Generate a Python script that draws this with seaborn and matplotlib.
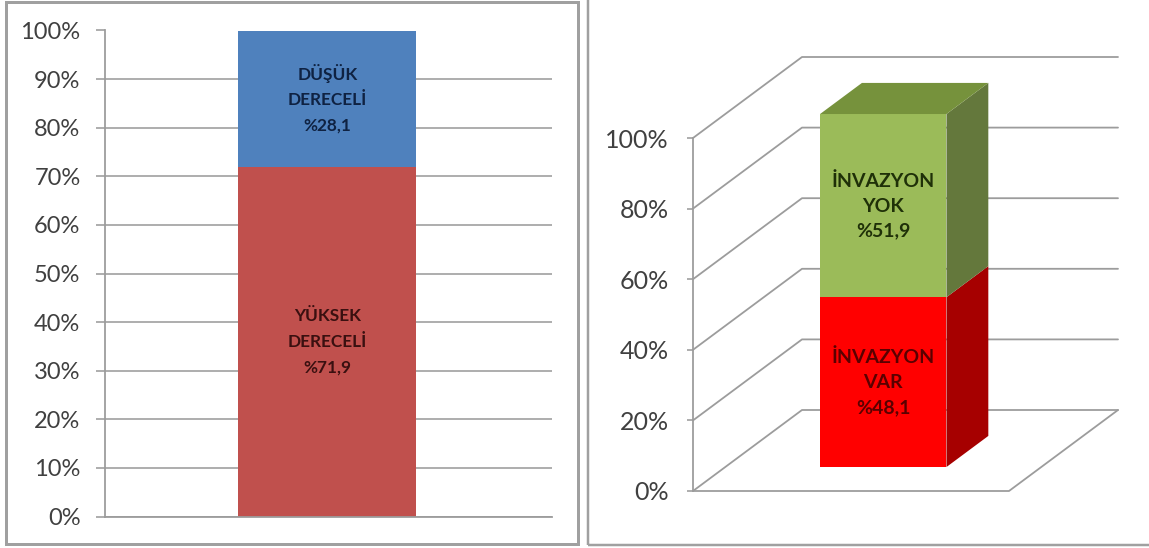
import matplotlib
matplotlib.use("Agg")
import matplotlib.pyplot as plt
from matplotlib.patches import Polygon, Rectangle
import seaborn as sns

# ---- data ----
left_names = ["YÜKSEK\nDERECELİ", "DÜŞÜK\nDERECELİ"]
left_values = [71.9, 28.1]
right_names = ["İNVAZYON\nVAR", "İNVAZYON\nYOK"]
right_values = [48.1, 51.9]
left_ticks = [0, 10, 20, 30, 40, 50, 60, 70, 80, 90, 100]
right_ticks = [0, 20, 40, 60, 80, 100]

# ---- styles ----
W, H = 1149, 548
GRID = "#9c9c9c"
FRAME = "#a0a0a0"
TICK_TEXT = "#404040"
left_colors = ["#C0504D", "#4F81BD"]
left_text = ["#3a1010", "#0f2242"]
right_front = ["#FF0000", "#9BBB59"]
right_side = ["#A60000", "#64783C"]
right_top = "#76923C"
right_text = ["#5a0000", "#1f3008"]

sns.set_theme(style="white")
plt.rcParams["font.family"] = ["Lato", "DejaVu Sans"]
PT = 72 / 100  # points per pixel at dpi 100

fig = plt.figure(figsize=(W / 100, H / 100), dpi=100)


def axes_px(x0, y0, x1, y1, **kw):
    return fig.add_axes([x0 / W, 1 - y1 / H, (x1 - x0) / W, (y1 - y0) / H], **kw)


def label(v, name):
    return f"{name}\n%{str(v).replace('.', ',')}"


def style_ticks(ax, ticks, length_px, pad_px, size):
    ax.set_yticks(ticks)
    ax.set_yticklabels([f"{t}%" for t in ticks], fontsize=size, color=TICK_TEXT)
    ax.tick_params(axis="y", left=True, length=length_px * PT, width=1.6 * PT,
                   color=GRID, pad=pad_px * PT)
    ax.set_xticks([])
    ax.set_xlabel("")
    ax.set_ylabel("")


# ---- frames ----
fig.add_artist(Rectangle((6 / W, 1 - 544 / H), 572 / W, 542 / H, fill=False,
                         ec=FRAME, lw=3 * PT, transform=fig.transFigure))
fig.add_artist(Rectangle((588 / W, 1 - 545 / H), 600 / W, 560 / H, fill=False,
                         ec=FRAME, lw=2.5 * PT, transform=fig.transFigure))

# ---- left panel: stacked 2D ----
ax = axes_px(104.5, 30.5, 552, 516.5)
ax.patch.set_alpha(0)
ax.set_axisbelow(True)
bottom = 0
for v, name, c, tc in zip(left_values, left_names, left_colors, left_text):
    sns.barplot(x=[""], y=[v], bottom=bottom, color=c, saturation=1, width=0.398,
                ax=ax, linewidth=0)
    ax.bar_label(ax.containers[-1], labels=[label(v, name)], label_type="center",
                 fontsize=12.4, fontweight="bold", color=tc, linespacing=1.72)
    bottom += v
ax.set_xlim(-0.498, 0.502)
ax.set_ylim(0, 100)
style_ticks(ax, left_ticks, 9.5, 14.5, 17)
ax.grid(axis="y", color=GRID, lw=1.6 * PT)
ax.grid(axis="x", visible=False)
for s in ["top", "right"]:
    ax.spines[s].set_visible(False)
for s in ["left", "bottom"]:
    ax.spines[s].set_color(GRID)
    ax.spines[s].set_linewidth(1.8 * PT)

# ---- right panel: oblique 3D stack ----
FX0, FX1, FY0, FY1 = 693, 1009, 138, 491     # front plane of the box, pixels
DEPTH_X = 109 / (FX1 - FX0)                  # full depth, x units
DEPTH_Y = 81 / ((FY1 - FY0) / 100)           # full depth, percent units
D0, D1 = 0.296, 0.68                         # bar depth extent (fraction of box)

wall = axes_px(FX0, FY0, FX1, FY1)
wall.patch.set_alpha(0)
wall.set_xlim(-0.5, 0.5)
wall.set_ylim(0, 100)
style_ticks(wall, right_ticks, 6, 18, 18)
for s in ["top", "right", "bottom"]:
    wall.spines[s].set_visible(False)
wall.spines["left"].set_color(GRID)
wall.spines["left"].set_linewidth(1.8 * PT)


def proj(x, y, d):
    return x + d * DEPTH_X, y + d * DEPTH_Y


line_kw = dict(color=GRID, lw=1.8 * PT, clip_on=False, solid_capstyle="round")
for t in right_ticks:
    p0, p1, p2 = proj(-0.5, t, 0), proj(-0.5, t, 1), proj(0.5, t, 1)
    wall.plot([p0[0], p1[0], p2[0]], [p0[1], p1[1], p2[1]], **line_kw)
f0, f1 = proj(-0.5, 0, 0), proj(0.5, 0, 0)
b1 = proj(0.5, 0, 1)
wall.plot([f0[0], f1[0], b1[0]], [f0[1], f1[1], b1[1]], **line_kw)

# bars live in an axes shifted to the bar's front plane
sx = D0 * DEPTH_X * (FX1 - FX0)
sy = D0 * DEPTH_Y * (FY1 - FY0) / 100
bar_ax = axes_px(FX0 + sx, FY0 - sy, FX1 + sx, FY1 - sy)
bar_ax.patch.set_alpha(0)
half = 0.2
bottom = 0
dd = D1 - D0
for v, name, c, side, tc in zip(right_values, right_names, right_front, right_side, right_text):
    sns.barplot(x=[""], y=[v], bottom=bottom, color=c, saturation=1, width=2 * half,
                ax=bar_ax, linewidth=0)
    bar_ax.bar_label(bar_ax.containers[-1], labels=[label(v, name)], label_type="center",
                     fontsize=14, fontweight="bold", color=tc, linespacing=1.55)
    top = bottom + v
    bar_ax.add_patch(Polygon([proj(half, bottom, 0), proj(half, top, 0),
                              proj(half, top, dd), proj(half, bottom, dd)],
                             closed=True, fc=side, ec="none", clip_on=False))
    bottom = top
bar_ax.add_patch(Polygon([proj(-half, bottom, 0), proj(half, bottom, 0),
                          proj(half, bottom, dd), proj(-half, bottom, dd)],
                         closed=True, fc=right_top, ec="none", clip_on=False))
bar_ax.set_xlim(-0.5, 0.5)
bar_ax.set_ylim(0, 100)
bar_ax.axis("off")

fig.savefig("out.png", dpi=100, facecolor="white")
